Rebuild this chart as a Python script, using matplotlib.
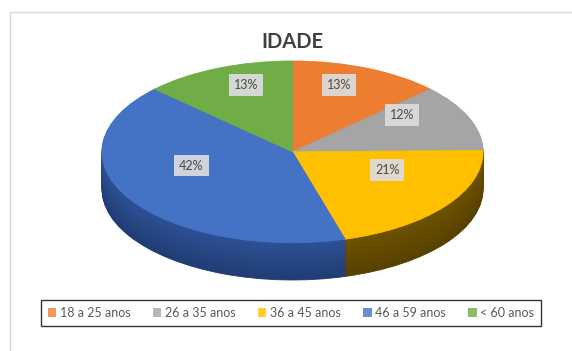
import matplotlib.pyplot as plt
import matplotlib.colors as mcolors
from matplotlib.patches import Patch
import numpy as np

# Dados
categorias = ['18 a 25 anos', '26 a 35 anos', '36 a 45 anos', '46 a 59 anos', '< 60 anos']
valores = [13, 12, 21, 42, 13]
cores_topo = ['#ed7d31', '#a5a5a5', '#ffc000', '#4472c4', '#70ad47']
cores_lado = ['#8a4716', '#5e5e5e', '#6e5200', '#2d5196', '#3f6a26']
cores_lado_fundo = ['#6e3810', '#4a4a4a', '#574100', '#203d73', '#30521c']

plt.rcParams['font.family'] = ['Lato', 'DejaVu Sans']

fig = plt.figure(figsize=(5.72, 3.51), dpi=100)

# moldura cinza clara
fig.add_artist(plt.Line2D([10 / 572, 10 / 572], [0, 1 - 12 / 351], color='#d9d9d9', lw=1))
fig.add_artist(plt.Line2D([10 / 572, 1], [1 - 12 / 351, 1 - 12 / 351], color='#d9d9d9', lw=1))

fig.text(292 / 572, 1 - 42 / 351, 'IDADE', ha='center', va='center',
         fontsize=14.5, fontweight='bold', color='#404040')

# eixo da pizza (elipse achatada)
profundidade = 0.41
ax = fig.add_axes([102 / 572, 1 - 280 / 351, 381 / 572, 219 / 351])

# lateral 3D: varias camadas empilhadas
n = 40
for i in range(n, 0, -1):
    t = i / n
    cores = [mcolors.to_hex(np.array(mcolors.to_rgb(a)) * (1 - t) + np.array(mcolors.to_rgb(b)) * t)
             for a, b in zip(cores_lado, cores_lado_fundo)]
    w, _ = ax.pie(valores, colors=cores, startangle=90, counterclock=False,
                  center=(0, -profundidade * t), radius=1, frame=True)
    for p in w:
        p.set_edgecolor(p.get_facecolor())
        p.set_linewidth(0.6)

# face superior
fatias, _, pcts = ax.pie(valores, colors=cores_topo, startangle=90, counterclock=False,
                         autopct=lambda p: f'{p:.0f}%', pctdistance=0.62,
                         center=(0, 0), radius=1, frame=True)
for p in fatias:
    p.set_edgecolor(p.get_facecolor())
    p.set_linewidth(0.6)

for t in pcts:
    x, y = t.get_position()
    t.set_position((x, y + 0.17))
    t.set_fontsize(9)
    t.set_color('#4a4a4a')
    t.set_bbox(dict(facecolor='#dcdcdf', edgecolor='none', alpha=0.92, pad=3.5))

ax.set_aspect('auto')
ax.set_xlim(-1, 1)
ax.set_ylim(-1 - profundidade, 1)
ax.axis('off')

# legenda
handles = [Patch(facecolor=c, edgecolor='none', alpha=0.8) for c in cores_topo]
leg = fig.legend(handles, categorias, loc='center', bbox_to_anchor=(291 / 572, 1 - 313 / 351),
                 ncol=5, fontsize=9, frameon=True, fancybox=False, edgecolor='#000000',
                 handlelength=0.7, handleheight=0.7, handletextpad=0.3, columnspacing=1.75,
                 borderpad=0.55, borderaxespad=0, labelcolor='#595959')
leg.get_frame().set_linewidth(1.0)

fig.savefig('out.png', dpi=100)
